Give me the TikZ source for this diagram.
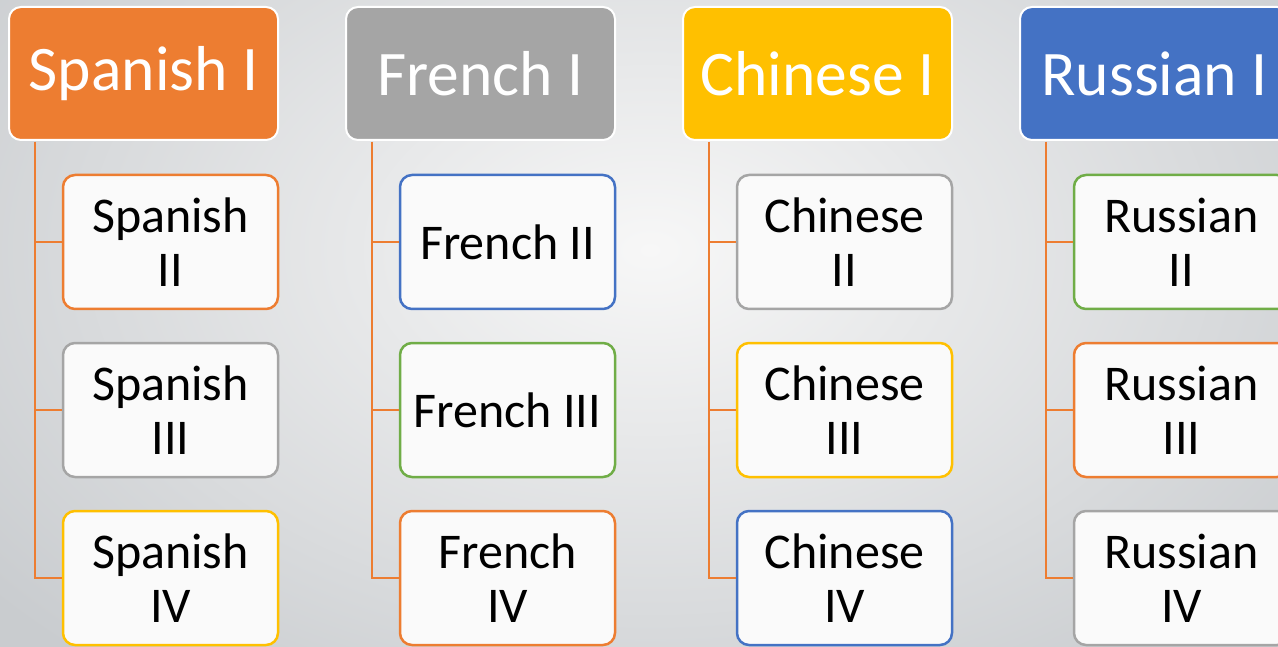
\documentclass[tikz,border=0pt]{standalone}
\usepackage{fontspec}
\setmainfont{Carlito}
\definecolor{cOrange}{HTML}{ED7D31}
\definecolor{cGray}{HTML}{A5A5A5}
\definecolor{cGold}{HTML}{FFC000}
\definecolor{cBlue}{HTML}{4472C4}
\definecolor{cGreen}{HTML}{70AD47}
\definecolor{boxfill}{HTML}{FAFAFA}
\definecolor{bgIn}{HTML}{F7F7F7}
\definecolor{bgOut}{HTML}{C9CCCF}
\begin{document}
\begin{tikzpicture}[x=1pt,y=-1pt,
  head/.style={rounded corners=12pt, draw=white, line width=2pt, minimum width=269pt, minimum height=133pt, inner sep=0pt, text=white, font=\fontsize{63.5}{74}\selectfont},
  child/.style={rounded corners=12pt, line width=2.5pt, fill=boxfill, minimum width=215pt, minimum height=134pt, inner sep=0pt, align=center, text=black, font=\fontsize{50}{54}\selectfont},
  conn/.style={draw=cOrange, line width=2.8pt}]
\useasboundingbox (0,0) rectangle (1278,647);
\clip (0,0) rectangle (1278,647);
\shade[inner color=bgIn, outer color=bgOut] (-200,-300) rectangle (1500,800);
% headers
\node[head, fill=cOrange] (h0) at (143.5,73.5) {Spanish I};
\node[head, fill=cGray]   (h1) at (480.5,73.5) {French I};
\node[head, fill=cGold]   (h2) at (817.5,73.5) {Chinese I};
\node[head, fill=cBlue]   (h3) at (1154.5,73.5) {Russian I};
% children
\node[child, draw=cOrange] (c01) at (170.5,242) {Spanish\\II};
\node[child, draw=cGray]   (c02) at (170.5,410) {Spanish\\III};
\node[child, draw=cGold]   (c03) at (170.5,578) {Spanish\\IV};
\node[child, draw=cBlue]   (c11) at (507.5,242) {French II};
\node[child, draw=cGreen]  (c12) at (507.5,410) {French III};
\node[child, draw=cOrange] (c13) at (507.5,578) {French\\IV};
\node[child, draw=cGray]   (c21) at (844.5,242) {Chinese\\II};
\node[child, draw=cGold]   (c22) at (844.5,410) {Chinese\\III};
\node[child, draw=cBlue]   (c23) at (844.5,578) {Chinese\\IV};
\node[child, draw=cGreen]  (c31) at (1181.5,242) {Russian\\II};
\node[child, draw=cOrange] (c32) at (1181.5,410) {Russian\\III};
\node[child, draw=cGray]   (c33) at (1181.5,578) {Russian\\IV};
% connectors
\foreach \i in {0,1,2,3}{
  \coordinate (v\i) at ([xshift=27pt,yshift=-1pt]h\i.south west);
  \foreach \j in {1,2,3}{
    \draw[conn] (v\i) |- (c\i\j.west);
  }
}
\end{tikzpicture}
\end{document}
